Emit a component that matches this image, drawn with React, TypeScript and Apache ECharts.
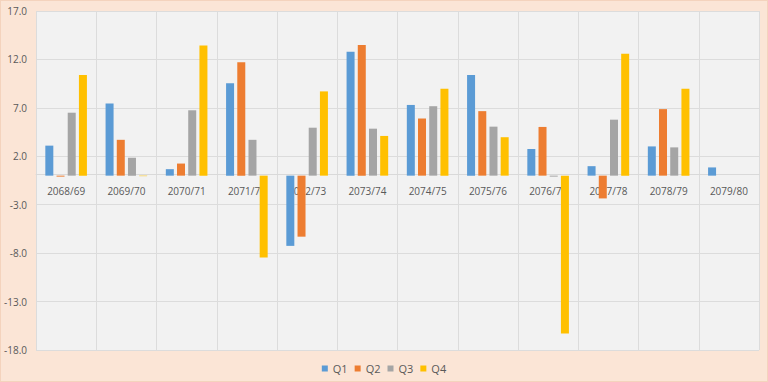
import React, { useEffect, useRef } from "react";
import * as echarts from "echarts";

const categories = ["2068/69", "2069/70", "2070/71", "2071/72", "2072/73", "2073/74", "2074/75", "2075/76", "2076/77", "2077/78", "2078/79", "2079/80"];
const q1 = [3.1, 7.45, 0.67, 9.55, -7.25, 12.8, 7.3, 10.4, 2.75, 0.98, 3.02, 0.85];
const q2 = [-0.1, 3.7, 1.25, 11.7, -6.3, 13.5, 5.9, 6.66, 5.03, -2.35, 6.87, null];
const q3 = [6.5, 1.85, 6.75, 3.7, 4.95, 4.85, 7.17, 5.06, -0.1, 5.78, 2.92, null];
const q4 = [10.4, -0.05, 13.45, -8.45, 8.7, 4.1, 8.97, 3.97, -16.3, 12.58, 8.97, null];
const seriesNames = ["Q1", "Q2", "Q3", "Q4"];
const colors = ["#5b9bd5", "#ed7d31", "#a5a5a5", "#ffc000"];
const yMin = -18;
const yMax = 17;

export default function App() {
  const ref = useRef<HTMLDivElement>(null);
  useEffect(() => {
    if (!ref.current) return;
    const chart = echarts.init(ref.current, null, { renderer: "svg" });
    const font = "'Open Sans', 'Liberation Sans', sans-serif";
    const data = [q1, q2, q3, q4];
    const top = 10;
    const bottom = 31;
    const h = 382 - top - bottom;
    const zeroOffset = -(h * (0 - yMin)) / (yMax - yMin);
    chart.setOption({
      animation: false,
      backgroundColor: "#fbe5d6",
      textStyle: { fontFamily: font },
      grid: { left: 35, right: 8, top, bottom, show: true, backgroundColor: "#f2f2f2", borderWidth: 0 },
      legend: {
        bottom: 2,
        left: "center",
        itemWidth: 6,
        itemHeight: 6,
        itemGap: 7,
        icon: "rect",
        textStyle: { color: "#595959", fontSize: 11, fontFamily: font },
        data: seriesNames,
      },
      xAxis: [
        {
          type: "category",
          data: categories,
          axisLine: { show: false },
          axisTick: { show: false },
          axisLabel: { show: false },
          splitLine: { show: true, lineStyle: { color: "#dcdcdc", width: 1 } },
        },
        {
          type: "category",
          data: categories,
          position: "bottom",
          offset: zeroOffset,
          axisLine: { show: true, onZero: false, lineStyle: { color: "#d9d9d9" } },
          axisTick: { show: false },
          axisLabel: { color: "#595959", fontSize: 10, margin: 11, fontFamily: font },
          splitLine: { show: false },
        },
      ],
      yAxis: {
        type: "value",
        min: yMin,
        max: yMax,
        interval: 5,
        axisLine: { show: false },
        axisTick: { show: false },
        axisLabel: { color: "#595959", fontSize: 10, margin: 9, fontFamily: font, formatter: (v: number) => v.toFixed(1) },
        splitLine: { show: true, lineStyle: { color: "#dcdcdc", width: 1 } },
      },
      series: seriesNames.map((n, i) => ({
        name: n,
        type: "bar",
        xAxisIndex: 0,
        data: data[i],
        barWidth: 8,
        barGap: "40%",
        itemStyle: { color: colors[i] },
      })),
    });
    return () => chart.dispose();
  }, []);
  return (
    <div
      ref={ref}
      style={{ position: "absolute", left: 0, top: 0, width: 768, height: 382, boxSizing: "border-box", border: "1px solid #f4d3bd" }}
    />
  );
}
